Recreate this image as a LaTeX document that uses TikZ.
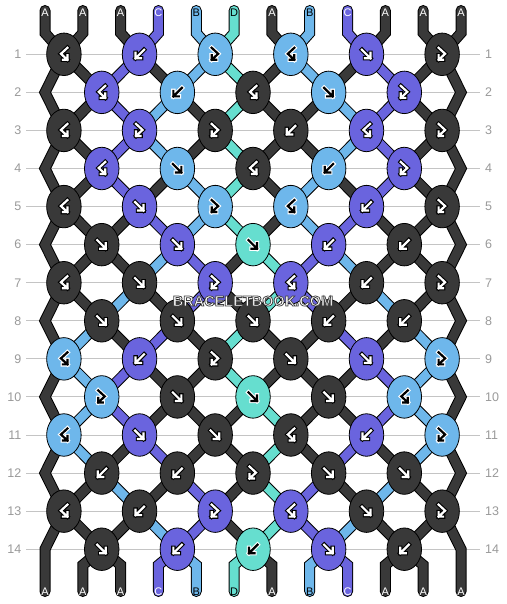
\documentclass[tikz,border=0pt]{standalone}
\usepackage{fontspec}
\setmainfont{Liberation Sans}
\usetikzlibrary{shapes.geometric}

\definecolor{strA}{HTML}{393939}
\definecolor{strB}{HTML}{6EB7EB}
\definecolor{strC}{HTML}{6A64DE}
\definecolor{strD}{HTML}{66DECF}
\colorlet{fgA}{white}\colorlet{bgA}{black}
\colorlet{fgC}{white}\colorlet{bgC}{black}
\colorlet{fgB}{black}\colorlet{bgB}{white}
\colorlet{fgD}{black}\colorlet{bgD}{white}
\definecolor{rowgray}{HTML}{C4C4C4}
\definecolor{labgray}{HTML}{9A9A9A}

\pgfdeclarelayer{grid}
\pgfdeclarelayer{strout}
\pgfdeclarelayer{strin}
\pgfsetlayers{grid,strout,strin,main}

% knot symbols round the knot centre (y grows downwards)
\def\glyphf{(-4.5,-4.5) -- (4,4) (-1.5,4) -- (4,4) -- (4,-1.5)}
\def\glyphb{(4.5,-4.5) -- (-4,4) (1.5,4) -- (-4,4) -- (-4,-1.5)}
\def\glyphfb{(-3.5,-6.5) -- (3,-0.5) -- (-3.5,5.5) (-3.5,1) -- (-3.5,5.5) -- (1,5.5)}
\def\glyphbf{(3.5,-6.5) -- (-3,-0.5) -- (3.5,5.5) (3.5,1) -- (3.5,5.5) -- (-1,5.5)}

% one strand: black rim, then the colour
\newcommand\strand[2]{%
  \begin{pgfonlayer}{strout}\draw[strout] #2;\end{pgfonlayer}%
  \begin{pgfonlayer}{strin}\draw[strin, draw=str#1] #2;\end{pgfonlayer}}

% outlined lettering (fill, then stroke)
\newcommand\outlined[1]{%
  \special{pdf:literal direct 2 Tr 0.75 w 0.25 0.25 0.25 RG}#1\special{pdf:literal direct 0 Tr}}

\begin{document}
\begin{tikzpicture}[x=1pt, y=-1pt,
    knot/.style={ellipse, draw=black, line width=0.8pt, minimum width=34.5pt, minimum height=42.5pt, inner sep=0pt},
    strout/.style={line width=11pt, black, line cap=round, line join=miter},
    strin/.style={line width=9pt, line cap=round, line join=miter},
    rowline/.style={rowgray, line width=1pt},
    rowlab/.style={text=labgray, font=\fontsize{12.5}{12.5}\selectfont, inner sep=0pt},
    endlab/.style={font=\fontsize{11}{11}\selectfont, inner sep=0pt},
    gout/.style={line width=4.4pt, line cap=rect, miter limit=10},
    gin/.style={line width=2.2pt, line cap=rect, miter limit=10}]

\begin{pgfonlayer}{grid}
  \fill[white] (0,0) rectangle (506,604);
\end{pgfonlayer}
\useasboundingbox (0,0) rectangle (506,604);

% row lines and numbers
\foreach \rw in {1,...,14}{
  \pgfmathsetmacro\y{54.3+(\rw-1)*38.07}
  \begin{pgfonlayer}{grid}
    \draw[rowline] (26,\y) -- (480,\y);
  \end{pgfonlayer}
  \node[rowlab, anchor=east] (rl\rw) at (21.5,\y) {\rw};
  \node[rowlab, anchor=west] (rr\rw) at (485,\y) {\rw};
}

% knots: colour / kind
\foreach \rw/\knots in {
    1/{A/bf,C/b,B/fb,B/bf,C/f,A/fb},
    2/{C/bf,B/b,A/bf,B/f,C/fb},
    3/{A/bf,C/fb,A/fb,A/b,C/bf,A/fb},
    4/{C/bf,B/f,A/bf,B/b,C/fb},
    5/{A/bf,C/f,B/fb,B/bf,C/b,A/fb},
    6/{A/f,C/f,D/f,C/b,A/b},
    7/{A/bf,A/f,C/fb,C/bf,A/b,A/fb},
    8/{A/f,A/f,A/f,A/b,A/b},
    9/{B/bf,C/b,A/fb,A/f,C/f,B/fb},
    10/{B/fb,A/f,D/f,A/f,B/bf},
    11/{B/bf,C/f,A/f,A/bf,C/b,B/fb},
    12/{A/b,A/b,A/fb,A/f,A/f},
    13/{A/bf,A/b,C/fb,C/bf,A/f,A/fb},
    14/{A/f,C/b,D/b,C/f,A/b}}{
  \pgfmathsetmacro\y{54.3+(\rw-1)*38.07}
  \pgfmathtruncatemacro\odd{mod(\rw,2)}
  \foreach \col/\kt [count=\kn] in \knots {
    \pgfmathsetmacro\x{45+(2*\kn-0.5-\odd)*37.82}
    \node[knot, fill=str\col] (k\rw-\kn) at (\x,\y) {};
    \expandafter\let\expandafter\glyph\csname glyph\kt\endcsname
    \begin{scope}[shift={(k\rw-\kn.center)}]
      \draw[gout, draw=bg\col] \glyph;
      \draw[gin, draw=fg\col] \glyph;
    \end{scope}
  }
}

% where each string position passes in each row
\foreach \rw in {1,...,14}{
  \pgfmathsetmacro\y{54.3+(\rw-1)*38.07}
  \pgfmathtruncatemacro\odd{mod(\rw,2)}
  \foreach \pos in {1,...,12}{
    \ifnum\odd=1\relax
      \pgfmathtruncatemacro\kk{(\pos+1)/2}
      \coordinate (p\rw-\pos) at (k\rw-\kk.center);
    \else
      \ifnum\pos=1\relax
        \coordinate (p\rw-\pos) at (45,\y);
      \else\ifnum\pos=12\relax
        \coordinate (p\rw-\pos) at (461,\y);
      \else
        \pgfmathtruncatemacro\kk{\pos/2}
        \coordinate (p\rw-\pos) at (k\rw-\kk.center);
      \fi\fi
    \fi
  }
}
\foreach \pos in {1,...,12}{
  \pgfmathsetmacro\x{45+(\pos-1)*37.82}
  \coordinate (t\pos) at (\x,10.5);
  \coordinate (p0-\pos) at (\x,33);
  \coordinate (p15-\pos) at (\x,565);
  \coordinate (b\pos) at (\x,591.5);
}

% strings: colours after each row
\foreach \rw/\arr in {
    0/{A,A,A,C,B,D,A,B,C,A,A,A},
    1/{A,A,C,A,B,D,A,B,A,C,A,A},
    2/{A,A,C,B,A,D,A,A,B,C,A,A},
    3/{A,A,C,B,A,D,A,A,B,C,A,A},
    4/{A,A,C,A,B,D,A,B,A,C,A,A},
    5/{A,A,A,C,B,D,A,B,C,A,A,A},
    6/{A,A,A,B,C,A,D,C,B,A,A,A},
    7/{A,A,B,A,C,A,D,C,A,B,A,A},
    8/{A,B,A,C,A,D,A,A,C,A,B,A},
    9/{A,B,C,A,A,D,A,A,A,C,B,A},
    10/{A,B,C,A,A,A,D,A,A,C,B,A},
    11/{A,B,A,C,A,A,D,A,C,A,B,A},
    12/{A,A,B,A,C,A,D,C,A,B,A,A},
    13/{A,A,A,B,C,A,D,C,B,A,A,A},
    14/{A,A,A,C,B,D,A,B,C,A,A,A}}{
  \pgfmathtruncatemacro\rn{\rw+1}
  \pgfmathtruncatemacro\rp{\rw-1}
  \pgfmathtruncatemacro\ev{1-mod(\rw,2)}
  \foreach \col [count=\pos] in \arr {
    \pgfmathtruncatemacro\edge{or(\pos==1,\pos==12)}
    \ifnum\rw=0\relax
      \strand{\col}{(t\pos) -- (p0-\pos) -- (p1-\pos)}
    \else\ifnum\rw=14\relax
      \ifnum\edge=1\relax
        \strand{\col}{(p13-\pos) -- (p14-\pos) -- (p15-\pos) -- (b\pos)}
      \else
        \strand{\col}{(p14-\pos) -- (p15-\pos) -- (b\pos)}
      \fi
    \else
      \ifnum\edge=0\relax
        \strand{\col}{(p\rw-\pos) -- (p\rn-\pos)}
      \else\ifnum\ev=1\relax
        \strand{\col}{(p\rp-\pos) -- (p\rw-\pos) -- (p\rn-\pos)}
      \fi\fi
    \fi\fi
  }
}

% string letters, top and bottom
\foreach \col [count=\pos] in {A,A,A,C,B,D,A,B,C,A,A,A}{
  \pgfmathsetmacro\x{45+(\pos-1)*37.82}
  \node[endlab, text=fg\col] (lt\pos) at (\x,13) {\col};
  \node[endlab, text=fg\col] (lb\pos) at (\x,591.5) {\col};
}

% site mark
\node[text=white, font=\bfseries\fontsize{14.5}{14.5}\selectfont] (mark) at (253,301) {\outlined{BRACELETBOOK.COM}};
\end{tikzpicture}
\end{document}
